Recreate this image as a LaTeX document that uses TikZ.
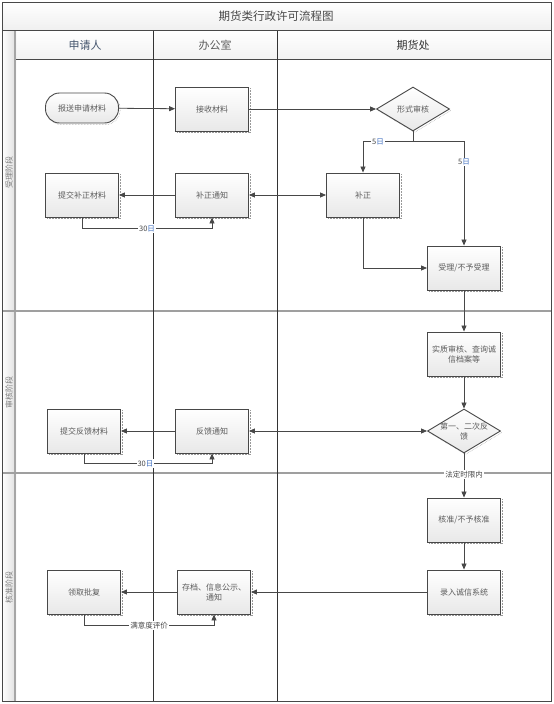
\documentclass[tikz,border=0pt]{standalone}
\usepackage{fontspec}
\setmainfont{Noto Sans CJK SC}
\usetikzlibrary{arrows.meta, positioning, shapes.geometric, shadows, calc}
\definecolor{xian}{HTML}{484848}
\definecolor{wen}{HTML}{5C5C5C}
\definecolor{rilan}{HTML}{3F6FC0}
\definecolor{biaotou}{HTML}{46566E}

\begin{document}
\begin{tikzpicture}[x=1pt, y=-1pt,
  every node/.style={font=\fontsize{8}{10}\selectfont, text=wen},
  sh/.style={general shadow={shadow xshift=1.5pt, shadow yshift=-1.5pt, draw=gray!80, densely dotted, line width=0.5pt, fill=none}},
  b/.style={sh, draw=xian, line width=0.9pt, top color=white, bottom color=gray!18, align=center, minimum width=73pt, minimum height=44pt, inner sep=2pt},
  t/.style={b, minimum height=30pt, rounded corners=14pt},
  d/.style={sh, diamond, draw=xian, line width=0.9pt, top color=white, bottom color=gray!18, minimum width=73pt, minimum height=44pt, inner sep=0pt},
  a/.style={draw=xian, line width=0.8pt, -{Triangle[length=6pt, width=5pt]}},
  aa/.style={a, {Triangle[length=6pt, width=5pt]}-{Triangle[length=6pt, width=5pt]}},
  lab/.style={fill=white, inner sep=1pt, font=\fontsize{7.5}{9}\selectfont, text=xian},
  hd/.style={font=\fontsize{11}{13}\selectfont, text=biaotou},
  ph/.style={rotate=90, font=\fontsize{8}{10}\selectfont, text=gray}]
\useasboundingbox (0,0) rectangle (554,704);
% frame and lanes
\fill[top color=white, bottom color=gray!12] (2,2) rectangle (551,30);
\fill[top color=white, bottom color=gray!10] (16,30) rectangle (551,59);
\fill[left color=white, right color=gray!25] (2,30) rectangle (16,701);
\draw[gray!70, line width=2pt] (15,30) -- (15,701);
\draw[gray!75, line width=1.5pt] (2,311) -- (551,311);
\draw[gray!75, line width=1.5pt] (2,473) -- (551,473);
\draw[xian, line width=0.8pt] (16,59) -- (551,59);
\draw[black!80, line width=0.8pt] (153,30) -- (153,701);
\draw[black!80, line width=0.8pt] (277,30) -- (277,701);
\draw[xian, line width=1pt] (2,2) rectangle (551,30);
\draw[xian, line width=1pt] (2,30) rectangle (551,701);
\node[font=\fontsize{11.5}{13}\selectfont, text=xian] (biaoti) at (276,16) {期货类行政许可流程图};
\node[hd] (shenqingren) at (85,45) {申请人};
\node[hd, text=wen] (bangongshi) at (215,45) {办公室};
\node[hd, text=black!80] (qihuochu) at (413,45) {期货处};
\node[ph] (shoulijd) at (9,172) {受理阶段};
\node[ph] (shenhejd) at (9,392) {审核阶段};
\node[ph] (hezhunjd) at (9,587) {核准阶段};

% steps
\node[t] (baosong) at (82,108) {报送申请材料};
\node[b] (jieshou) at (212,109) {接收材料};
\node[d] (xingshi) at (413,109) {形式审核};
\node[b] (tijiao) at (82,195) {提交补正材料};
\node[b] (buzhengtz) at (212,195) {补正通知};
\node[b] (buzheng) at (363,195) {补正};
\node[b] (shouli) at (464,268) {受理/不予受理};
\node[b] (shizhi) at (464,354) {实质审核、查询诚\\信档案等};
\node[d, label={[align=center]center:第一、二次反\\馈}] (fankui) at (464,431) {};
\node[b] (tijiaofk) at (84,431) {提交反馈材料};
\node[b] (fankuitz) at (212,431) {反馈通知};
\node[b] (hezhun) at (464,520) {核准/不予核准};
\node[b] (luru) at (464,592) {录入诚信系统};
\node[b] (lingqu) at (84,592) {领取批复};
\node[b] (cundang) at (214,592) {存档、信息公示、\\通知};

% connectors
\draw[a] (baosong) -- (jieshou);
\draw[a] (jieshou) -- (xingshi);
\coordinate (fen) at ($(xingshi.south)+(0,10)$);
\draw[draw=xian, line width=0.8pt] (xingshi.south) -- (fen);
\draw[a] (fen) -| node[lab, pos=0.35]{5\textcolor{rilan}{日}} (buzheng.north);
\draw[a] (fen) -| node[lab, pos=0.6]{5\textcolor{rilan}{日}} (shouli.north);
\draw[aa] (buzhengtz) -- (buzheng);
\draw[a] (buzhengtz) -- (tijiao);
\draw[a] (tijiao.south) -- ++(0,11) -| node[lab, pos=0.25]{30\textcolor{rilan}{日}} (buzhengtz.south);
\draw[a] (buzheng.south) |- (shouli.west);
\draw[a] (shouli) -- (shizhi);
\draw[a] (shizhi) -- (fankui);
\draw[aa] (fankuitz) -- (fankui);
\draw[a] (fankuitz) -- (tijiaofk);
\draw[a] (tijiaofk.south) -- ++(0,10) -| node[lab, pos=0.24]{30\textcolor{rilan}{日}} (fankuitz.south);
\draw[a] (fankui) -- node[lab, pos=0.48]{法定时限内} (hezhun);
\draw[a] (hezhun) -- (luru);
\draw[a] (luru) -- (cundang);
\draw[a] (cundang) -- (lingqu);
\draw[a] (lingqu.south) -- ++(0,11) -| node[lab, pos=0.25]{满意度评价} (cundang.south);
\end{tikzpicture}
\end{document}
